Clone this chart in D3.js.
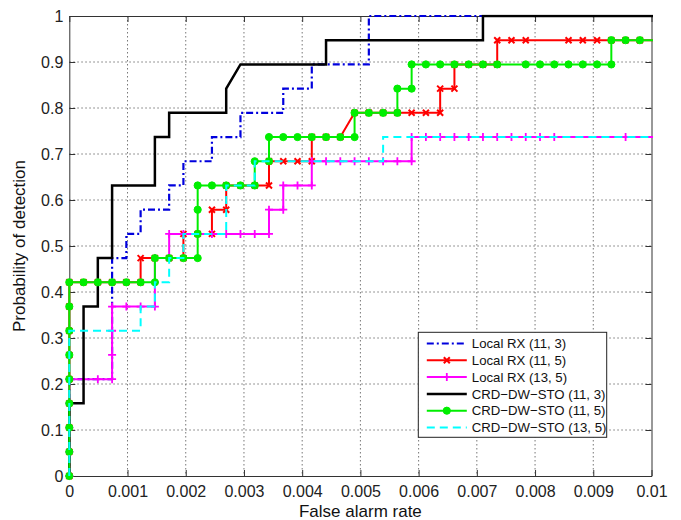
<!DOCTYPE html>
<html><head><meta charset="utf-8">
<script src="https://cdn.jsdelivr.net/npm/d3@7"></script>
<style>body{margin:0;background:#fff;} svg{display:block;font-family:"Liberation Sans",Arial,sans-serif;}</style>
</head><body><svg id="chart" width="681" height="520"></svg>
<script>
// ---------- data ----------
const xTicks = [0,0.001,0.002,0.003,0.004,0.005,0.006,0.007,0.008,0.009,0.01];
const xTickLabels = ["0","0.001","0.002","0.003","0.004","0.005","0.006","0.007","0.008","0.009","0.01"];
const yTicks = [0,0.1,0.2,0.3,0.4,0.5,0.6,0.7,0.8,0.9,1];
const yTickLabels = ["0","0.1","0.2","0.3","0.4","0.5","0.6","0.7","0.8","0.9","1"];
const seriesNames = ["Local RX (11, 3)","Local RX (11, 5)","Local RX (13, 5)","CRD\u2212DW\u2212STO (11, 3)","CRD\u2212DW\u2212STO (11, 5)","CRD\u2212DW\u2212STO (13, 5)"];

const localRX_11_3 = [[0,0],[0,0.2105],[0.000735,0.2105],[0.000735,0.4737],[0.00098,0.4737],[0.00098,0.5263],[0.001225,0.5263],[0.001225,0.5789],[0.001715,0.5789],[0.001715,0.6316],[0.00196,0.6316],[0.00196,0.6842],[0.00245,0.6842],[0.00245,0.7368],[0.00294,0.7368],[0.00294,0.7895],[0.003675,0.7895],[0.003675,0.8421],[0.004165,0.8421],[0.004165,0.8947],[0.005145,0.8947],[0.005145,1],[0.010045,1]];

const localRX_11_5 = [[0,0],[0,0.0526],[0,0.1053],[0,0.1579],[0,0.2105],[0,0.2632],[0,0.3158],[0,0.3684],[0,0.4211],
[0.000245,0.4211],[0.00049,0.4211],[0.000735,0.4211],[0.00098,0.4211],[0.001225,0.4211],
[0.001225,0.4737],[0.00147,0.4737],[0.001715,0.4737],[0.00196,0.4737],
[0.00196,0.5263],[0.002205,0.5263],[0.00245,0.5263],
[0.00245,0.5789],[0.002695,0.5789],
[0.002695,0.6316],[0.00294,0.6316],[0.003185,0.6316],[0.00343,0.6316],
[0.00343,0.6842],[0.003675,0.6842],[0.00392,0.6842],[0.004165,0.6842],
[0.004165,0.7368],[0.00441,0.7368],[0.004655,0.7368],
[0.0049,0.7895],[0.005145,0.7895],[0.00539,0.7895],[0.005635,0.7895],[0.00588,0.7895],[0.006125,0.7895],[0.00637,0.7895],
[0.00637,0.8421],[0.006615,0.8421],
[0.006615,0.8947],[0.00686,0.8947],[0.007105,0.8947],[0.00735,0.8947],
[0.00735,0.9474],[0.007595,0.9474],[0.00784,0.9474],[0.008575,0.9474],[0.00882,0.9474],[0.009065,0.9474],[0.00931,0.9474],[0.009555,0.9474],[0.0098,0.9474],[0.010045,0.9474]];

const localRX_13_5 = [[0,0],[0,0.0526],[0,0.1053],[0,0.1579],[0,0.2105],[0.00049,0.2105],[0.000735,0.2105],
[0.000735,0.2632],[0.000735,0.3158],[0.000735,0.3684],[0.00098,0.3684],[0.001225,0.3684],[0.00147,0.3684],
[0.00147,0.4211],[0.00147,0.4737],[0.001715,0.4737],
[0.001715,0.5263],[0.00196,0.5263],[0.002205,0.5263],[0.00245,0.5263],[0.002695,0.5263],[0.00294,0.5263],[0.003185,0.5263],[0.00343,0.5263],
[0.00343,0.5789],[0.003675,0.5789],
[0.003675,0.6316],[0.00392,0.6316],[0.004165,0.6316],
[0.004165,0.6842],[0.00441,0.6842],[0.004655,0.6842],[0.0049,0.6842],[0.005145,0.6842],[0.00539,0.6842],[0.005635,0.6842],[0.00588,0.6842],
[0.00588,0.7368],[0.006125,0.7368],[0.00637,0.7368],[0.006615,0.7368],[0.00686,0.7368],[0.007105,0.7368],[0.00735,0.7368],[0.007595,0.7368],[0.00784,0.7368],[0.008085,0.7368],[0.00833,0.7368],[0.009555,0.7368],[0.010045,0.7368]];

const crd_11_3 = [[0,0],[0,0.1579],[0.000245,0.1579],[0.000245,0.3684],[0.00049,0.3684],[0.00049,0.4737],[0.000735,0.4737],[0.000735,0.6316],[0.00147,0.6316],[0.00147,0.7368],[0.001715,0.7368],[0.001715,0.7895],[0.002695,0.7895],[0.002695,0.8421],[0.00294,0.8947],[0.00441,0.8947],[0.00441,0.9474],[0.007105,0.9474],[0.007105,1],[0.010045,1]];

const crd_11_5 = [[0,0],[0,0.0526],[0,0.1053],[0,0.1579],[0,0.2105],[0,0.2632],[0,0.3158],[0,0.3684],[0,0.4211],
[0.000245,0.4211],[0.00049,0.4211],[0.000735,0.4211],[0.00098,0.4211],[0.001225,0.4211],[0.00147,0.4211],
[0.00147,0.4737],[0.001715,0.4737],[0.00196,0.4737],[0.002205,0.4737],
[0.002205,0.5263],[0.002205,0.5789],[0.002205,0.6316],
[0.00245,0.6316],[0.002695,0.6316],[0.00294,0.6316],[0.003185,0.6316],
[0.003185,0.6842],[0.00343,0.6842],
[0.00343,0.7368],[0.003675,0.7368],[0.00392,0.7368],[0.004165,0.7368],[0.00441,0.7368],[0.004655,0.7368],[0.0049,0.7368],
[0.0049,0.7895],[0.005145,0.7895],[0.00539,0.7895],[0.005635,0.7895],
[0.005635,0.8421],[0.00588,0.8421],
[0.00588,0.8947],[0.006125,0.8947],[0.00637,0.8947],[0.006615,0.8947],[0.00686,0.8947],[0.007105,0.8947],[0.00735,0.8947],[0.00784,0.8947],[0.008085,0.8947],[0.00833,0.8947],[0.008575,0.8947],[0.00882,0.8947],[0.009065,0.8947],[0.00931,0.8947],
[0.00931,0.9474],[0.009555,0.9474],[0.0098,0.9474],[0.010045,0.9474]];

const crd_13_5 = [[0,0],[0,0.3158],[0.001225,0.3158],[0.001225,0.3684],[0.00147,0.3684],[0.00147,0.4211],[0.001715,0.4211],[0.001715,0.4737],[0.00196,0.4737],[0.00196,0.5263],[0.002695,0.5263],[0.002695,0.6316],[0.003185,0.6316],[0.003185,0.6842],[0.00539,0.6842],[0.00539,0.7368],[0.010045,0.7368]];

// ---------- styles ----------
const seriesData = [localRX_11_3, localRX_11_5, localRX_13_5, crd_11_3, crd_11_5, crd_13_5];
const styles = [
  {color:"#0000dd", width:2.2, dash:"7,3,2,3", marker:null},
  {color:"#ff0000", width:2, dash:null, marker:"x"},
  {color:"#ff00ff", width:2, dash:null, marker:"+"},
  {color:"#000000", width:2.5, dash:null, marker:null},
  {color:"#00ee00", width:2, dash:null, marker:"o"},
  {color:"#00ffff", width:2, dash:"8,5", marker:null}
];

const L = 69.3, R = 651.5, T = 16, B = 476;
const svg = d3.select("#chart");
const x = d3.scaleLinear().domain([0, 0.01]).range([L, R]);
const y = d3.scaleLinear().domain([0, 1]).range([B, T]);

// grid
const grid = svg.append("g");
grid.selectAll("line.gx").data(xTicks.slice(1, -1)).enter().append("line")
  .attr("x1", d => x(d)).attr("x2", d => x(d)).attr("y1", T).attr("y2", B)
  .attr("stroke", "#777").attr("stroke-width", 1).attr("stroke-dasharray", "1.5,2.5");
grid.selectAll("line.gy").data(yTicks.slice(1, -1)).enter().append("line")
  .attr("y1", d => y(d)).attr("y2", d => y(d)).attr("x1", L).attr("x2", R)
  .attr("stroke", "#777").attr("stroke-width", 1).attr("stroke-dasharray", "1.5,2.5");

// axes with inner ticks
const fmtX = (d, i) => xTickLabels[i];
const fmtY = (d, i) => yTickLabels[i];
const axB = svg.append("g").attr("transform", `translate(0,${B})`)
  .call(d3.axisBottom(x).tickValues(xTicks).tickFormat(fmtX).tickSizeInner(-6).tickSizeOuter(0).tickPadding(10));
const axT = svg.append("g").attr("transform", `translate(0,${T})`)
  .call(d3.axisTop(x).tickValues(xTicks).tickFormat("").tickSizeInner(-6).tickSizeOuter(0));
const axL = svg.append("g").attr("transform", `translate(${L},0)`)
  .call(d3.axisLeft(y).tickValues(yTicks).tickFormat(fmtY).tickSizeInner(-6).tickSizeOuter(0).tickPadding(6));
const axR = svg.append("g").attr("transform", `translate(${R},0)`)
  .call(d3.axisRight(y).tickValues(yTicks).tickFormat("").tickSizeInner(-6).tickSizeOuter(0));
[axB, axT, axL, axR].forEach(a => {
  a.select(".domain").attr("stroke", "#333");
  a.selectAll(".tick line").attr("stroke", "#333");
  a.selectAll(".tick text").attr("fill", "#222").attr("font-size", 16).attr("font-family", "Liberation Sans, Arial, sans-serif");
});
axB.selectAll(".tick text").attr("dy", "0.71em");

// clip
svg.append("defs").append("clipPath").attr("id", "clip")
  .append("rect").attr("x", L - 1.5).attr("y", T - 1.5).attr("width", R - L + 3).attr("height", B - T + 3);

const line = d3.line().x(d => x(d[0])).y(d => y(d[1]));

function drawMarker(g, type, cx, cy, color) {
  if (type === "o") {
    g.append("circle").attr("cx", cx).attr("cy", cy).attr("r", 3.6).attr("fill", color).attr("stroke", color).attr("stroke-width", 1);
  } else if (type === "x") {
    const s = 3;
    g.append("path").attr("d", `M${cx-s},${cy-s}L${cx+s},${cy+s}M${cx-s},${cy+s}L${cx+s},${cy-s}`)
      .attr("stroke", color).attr("stroke-width", 2).attr("fill", "none");
  } else if (type === "+") {
    const s = 4;
    g.append("path").attr("d", `M${cx-s},${cy}L${cx+s},${cy}M${cx},${cy-s}L${cx},${cy+s}`)
      .attr("stroke", color).attr("stroke-width", 1.8).attr("fill", "none");
  }
}

const plot = svg.append("g");
seriesData.forEach((data, i) => {
  const st = styles[i];
  const g = plot.append("g");
  g.append("path").datum(data).attr("d", line).attr("clip-path", "url(#clip)")
    .attr("fill", "none").attr("stroke", st.color).attr("stroke-width", st.width)
    .attr("stroke-dasharray", st.dash).attr("stroke-linejoin", "miter");
  if (st.marker) {
    data.filter(d => d[0] <= 0.01).forEach(d => drawMarker(g, st.marker, x(d[0]), y(d[1]), st.color));
  }
});

// legend
const lg = svg.append("g");
const lx = 418.3, ly = 332.3, lw = 188.4, lh = 105;
lg.append("rect").attr("x", lx).attr("y", ly).attr("width", lw).attr("height", lh)
  .attr("fill", "#fff").attr("stroke", "#222").attr("stroke-width", 1);
seriesNames.forEach((name, i) => {
  const st = styles[i];
  const cy = ly + 11.2 + i * 16.8;
  lg.append("line").attr("x1", lx + 8.5).attr("x2", lx + 48.5).attr("y1", cy).attr("y2", cy)
    .attr("stroke", st.color).attr("stroke-width", st.width).attr("stroke-dasharray", st.dash);
  if (st.marker) drawMarker(lg, st.marker, lx + 28.5, cy, st.color);
  lg.append("text").attr("x", lx + 53.5).attr("y", cy).attr("dy", "0.36em")
    .attr("font-size", 13.2).attr("fill", "#111").text(name);
});

// axis labels
svg.append("text").attr("x", (L + R) / 2).attr("y", 517).attr("text-anchor", "middle")
  .attr("font-size", 17).attr("fill", "#111").text("False alarm rate");
svg.append("text").attr("transform", `translate(25,${(T + B) / 2}) rotate(-90)`).attr("text-anchor", "middle")
  .attr("font-size", 17).attr("fill", "#111").text("Probability of detection");
</script></body></html>
